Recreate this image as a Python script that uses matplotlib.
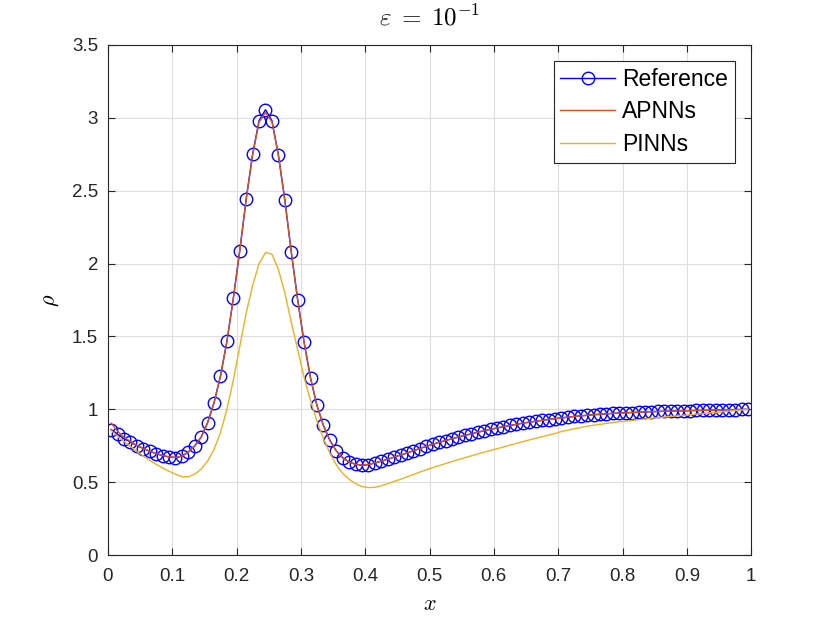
import numpy as np
import matplotlib
matplotlib.use('Agg')
import matplotlib.pyplot as plt

# x grid (cell centres) and values
x = np.arange(100) * 0.01 + 0.005

rho_ref = [0.861, 0.829, 0.799, 0.776, 0.751, 0.731, 0.712, 0.696, 0.682, 0.673,
           0.669, 0.678, 0.708, 0.749, 0.810, 0.909, 1.046, 1.228, 1.466, 1.762,
           2.089, 2.443, 2.751, 2.980, 3.055, 2.980, 2.746, 2.438, 2.082, 1.752,
           1.460, 1.215, 1.027, 0.890, 0.788, 0.715, 0.667, 0.639, 0.623, 0.616,
           0.621, 0.632, 0.644, 0.658, 0.672, 0.686, 0.700, 0.716, 0.731, 0.746,
           0.760, 0.773, 0.786, 0.798, 0.810, 0.821, 0.832, 0.843, 0.853, 0.863,
           0.872, 0.881, 0.889, 0.897, 0.905, 0.912, 0.918, 0.924, 0.930, 0.936,
           0.941, 0.946, 0.951, 0.955, 0.959, 0.963, 0.966, 0.969, 0.972, 0.974,
           0.976, 0.978, 0.980, 0.982, 0.984, 0.985, 0.987, 0.988, 0.989, 0.990,
           0.991, 0.992, 0.993, 0.994, 0.995, 0.996, 0.997, 0.998, 0.999, 1.000]

rho_apnn = [0.905, 0.850, 0.808, 0.780, 0.753, 0.732, 0.713, 0.697, 0.683, 0.674,
            0.670, 0.678, 0.707, 0.748, 0.809, 0.907, 1.044, 1.226, 1.464, 1.760,
            2.087, 2.440, 2.745, 2.970, 3.036, 2.972, 2.744, 2.436, 2.081, 1.751,
            1.459, 1.214, 1.026, 0.889, 0.788, 0.715, 0.667, 0.639, 0.623, 0.616,
            0.621, 0.632, 0.644, 0.658, 0.672, 0.686, 0.700, 0.716, 0.731, 0.746,
            0.760, 0.773, 0.786, 0.798, 0.810, 0.821, 0.832, 0.843, 0.853, 0.863,
            0.872, 0.881, 0.889, 0.897, 0.905, 0.912, 0.918, 0.924, 0.930, 0.936,
            0.941, 0.946, 0.951, 0.955, 0.959, 0.963, 0.966, 0.969, 0.972, 0.974,
            0.976, 0.978, 0.980, 0.982, 0.984, 0.985, 0.987, 0.988, 0.989, 0.990,
            0.991, 0.992, 0.993, 0.994, 0.995, 0.996, 0.997, 0.998, 0.999, 1.000]

rho_pinn = [0.856, 0.815, 0.780, 0.745, 0.710, 0.680, 0.650, 0.623, 0.598, 0.575,
            0.555, 0.538, 0.537, 0.555, 0.590, 0.645, 0.725, 0.840, 1.000, 1.200,
            1.430, 1.660, 1.850, 2.000, 2.075, 2.065, 1.960, 1.800, 1.600, 1.410,
            1.220, 1.060, 0.920, 0.800, 0.700, 0.620, 0.560, 0.520, 0.490, 0.470,
            0.463, 0.465, 0.475, 0.490, 0.505, 0.520, 0.537, 0.553, 0.570, 0.585,
            0.600, 0.614, 0.628, 0.642, 0.655, 0.668, 0.681, 0.694, 0.706, 0.718,
            0.730, 0.742, 0.754, 0.766, 0.778, 0.790, 0.801, 0.812, 0.823, 0.834,
            0.848, 0.857, 0.866, 0.875, 0.884, 0.891, 0.897, 0.903, 0.909, 0.914,
            0.919, 0.924, 0.929, 0.934, 0.939, 0.943, 0.947, 0.951, 0.955, 0.959,
            0.963, 0.967, 0.971, 0.975, 0.979, 0.983, 0.987, 0.991, 0.995, 1.000]

plt.rcParams['font.family'] = ['Liberation Sans', 'DejaVu Sans']
plt.rcParams['mathtext.fontset'] = 'cm'

fig = plt.figure(figsize=(8.3, 6.23), dpi=100)
ax = fig.add_axes([0.13, 0.109, 0.775, 0.819])

ax.plot(x, rho_ref, '-o', color=(0, 0, 1), lw=1.0, ms=9, mfc='none', mew=1.0,
        label='Reference')
ax.plot(x, rho_apnn, '-', color=(0.85, 0.325, 0.098), lw=1.0, label='APNNs')
ax.plot(x, rho_pinn, '-', color=(0.929, 0.694, 0.125), lw=1.0, label='PINNs')

ax.set_xlim(0, 1)
ax.set_ylim(0, 3.5)
ax.set_xticks(np.arange(0, 1.01, 0.1))
ax.set_xticklabels(['0', '0.1', '0.2', '0.3', '0.4', '0.5', '0.6', '0.7', '0.8', '0.9', '1'])
ax.set_yticks(np.arange(0, 3.51, 0.5))
ax.set_yticklabels(['0', '0.5', '1', '1.5', '2', '2.5', '3', '3.5'])

ax.grid(True, color=(0.87, 0.87, 0.87), lw=0.8)
ax.set_axisbelow(True)
for s in ax.spines.values():
    s.set_color((0.15, 0.15, 0.15))
    s.set_linewidth(0.8)
ax.tick_params(direction='in', top=True, right=True, length=5, width=0.8,
               colors=(0.15, 0.15, 0.15), labelsize=13.5)
ax.tick_params(axis='y', pad=7)
ax.tick_params(axis='x', pad=9)

ax.set_xlabel('$x$', fontsize=16, labelpad=7)
ax.set_ylabel(r'$\rho$', fontsize=16, labelpad=8)
ax.set_title(r'$\varepsilon\;=\;10^{-1}$', fontsize=18, pad=14)

leg = ax.legend(loc='upper right', fontsize=16.5, numpoints=1, handlelength=2.4,
                fancybox=False, framealpha=1, edgecolor=(0.15, 0.15, 0.15),
                borderaxespad=0.7, labelspacing=0.42, handletextpad=0.3,
                borderpad=0.3)
leg.get_frame().set_linewidth(0.8)

fig.savefig('out.png', dpi=100)
